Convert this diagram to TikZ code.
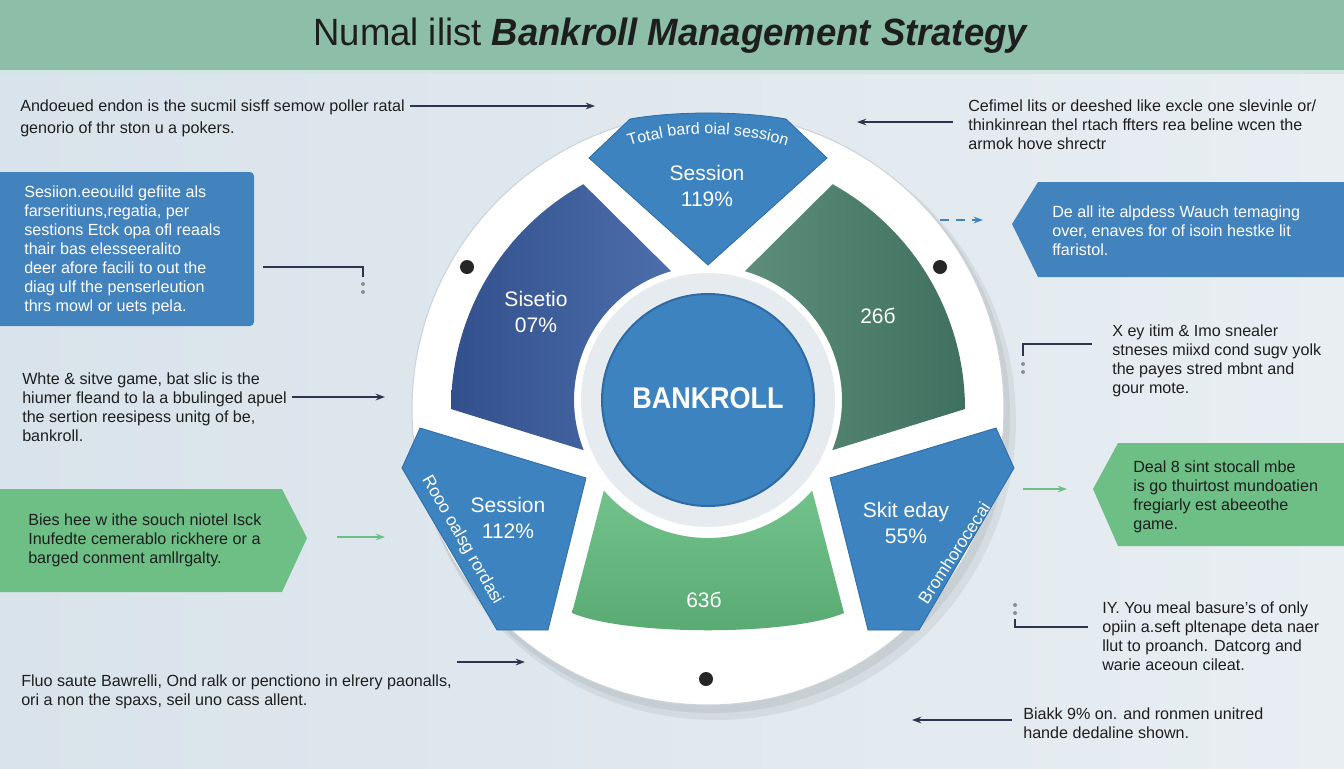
\documentclass[tikz,border=0pt]{standalone}
\usepackage{fontspec}
\setmainfont{Liberation Sans}
\usepackage{xcolor}
\usepackage{graphicx}
\usetikzlibrary{arrows.meta,calc,decorations.text}

\definecolor{bgleft}{HTML}{D9E3EB}
\definecolor{bgright}{HTML}{E8EEF2}
\definecolor{headgreen}{HTML}{8CBEA8}
\definecolor{headline}{HTML}{D3E6E1}
\definecolor{txtdark}{HTML}{1E1E1E}
\definecolor{navy}{HTML}{2B3550}
\definecolor{segblue}{HTML}{3C83BF}
\definecolor{segedge}{HTML}{2E6AA4}
\definecolor{darkA}{HTML}{32508D}
\definecolor{darkB}{HTML}{4C6EAA}
\definecolor{greenA}{HTML}{5C8E7B}
\definecolor{greenB}{HTML}{40705F}
\definecolor{lightA}{HTML}{72C28B}
\definecolor{lightB}{HTML}{58A972}
\definecolor{boxblue}{HTML}{4282BD}
\definecolor{boxgreen}{HTML}{6DBF86}
\definecolor{ringedge}{HTML}{CBD3DB}
\definecolor{groove}{HTML}{E6EBF0}
\definecolor{dotgray}{HTML}{8A9099}

\tikzset{
  titletxt/.style={inner sep=0pt, text=txtdark, font=\fontsize{28.5}{32}\selectfont},
  sidetxt/.style={anchor=west, inner sep=0pt, align=left, text=txtdark,
    font=\fontsize{12.1}{14.25}\selectfont},
  boxtxt/.style={sidetxt, text=white},
  segtxt/.style={inner sep=0pt, align=center, text=white,
    font=\fontsize{15.75}{19.5}\selectfont},
  rottxt/.style={inner sep=0pt, text=white, font=\fontsize{13}{13}\selectfont},
  conn/.style={draw=navy, line width=1.5pt, -{Stealth[length=7pt,width=5pt]}},
  greenconn/.style={conn, draw=boxgreen},
  bluedash/.style={conn, draw=boxblue, dash pattern=on 7pt off 5pt},
  bracket/.style={draw=navy, line width=1.5pt},
  wheeldot/.style={fill=black!85},
}

\begin{document}
\begin{tikzpicture}[x=0.75pt, y=-0.75pt]
  \useasboundingbox (0,0) rectangle (1344,768);
  % Background and header
  \shade[left color=bgleft, right color=bgright] (0,0) rectangle (1344,768);
  \fill[headgreen] (0,0) rectangle (1344,70);
  \fill[headline] (0,70) rectangle (1344,74);
  \node[titletxt] (title) at (671,36) {\scalebox{0.96}[1]{Numal ilist \textbf{\textit{Bankroll Management Strategy}}}};

  % Wheel centres
  \coordinate (cc) at (708,400);
  \coordinate (dc) at (708,409);

  % White disc with shadow
  \fill[black, opacity=0.06] (716,420) circle[radius=300];
  \fill[black, opacity=0.06] (712,415) circle[radius=298];
  \fill[white, draw=ringedge, line width=0.8pt] (dc) circle[radius=296];
  \fill[groove] (cc) circle[radius=127];

  % Segments
  \shade[left color=darkA, right color=darkB] ($(dc)+(180:257)$) arc[start angle=180, end angle=241, radius=257]
    -- ($(cc)+(254:134)$) arc[start angle=254, end angle=158, radius=134] -- cycle;
  \shade[left color=greenA, right color=greenB] ($(dc)+(0:257)$) arc[start angle=0, end angle=-61, radius=257]
    -- ($(cc)+(-74:134)$) arc[start angle=-74, end angle=22, radius=134] -- cycle;
  \fill[segblue, draw=segedge, line width=0.6pt] (589,158) -- (630,119) .. controls (675,111) and (741,111) .. (786,119)
    -- (827,158) -- (708,265) -- cycle;
  \fill[segblue, draw=segedge, line width=0.6pt] (420,428) -- (586,478) -- (548,630) -- (497,630) -- (402,468) -- cycle;
  \fill[segblue, draw=segedge, line width=0.6pt] (996,428) -- (830,478) -- (868,630) -- (919,630) -- (1014,468) -- cycle;
  \shade[top color=lightA, bottom color=lightB] (572,613) -- ($(cc)+(139:138)$) arc[start angle=139, end angle=41, radius=138]
    -- (844,613) .. controls (790,636) and (626,636) .. (572,613) -- cycle;

  % Centre circle
  \fill[segblue, draw=segedge, line width=1.5pt] (cc) circle[radius=106];
  \node[inner sep=0pt, text=white, font=\bfseries\fontsize{22.5}{24}\selectfont] (bank) at (708,398) {\scalebox{0.9}[1]{BANKROLL}};

  % Dots
  \fill[wheeldot] (467,267) circle[radius=7];
  \fill[wheeldot] (940,267) circle[radius=7];
  \fill[wheeldot] (706,679) circle[radius=7];

  % Segment labels
  \path[decorate, decoration={text along path, text align=center,
      text={|\color{white}\fontsize{12}{12}\selectfont|Total bard oial session}}]
    ($(cc)+(-108:266)$) arc[start angle=-108, end angle=-72, radius=266];
  \node[segtxt] (topseg) at (707,186) {Session\\119\%};
  \node[segtxt] (darkseg) at (536,312) {Sisetio\\07\%};
  \node[segtxt] (greenseg) at (878,316) {26б};
  \node[segtxt] (leftseg) at (508,518) {Session\\112\%};
  \node[segtxt] (rightseg) at (906,523) {Skit eday\\55\%};
  \node[segtxt] (lowseg) at (704,600) {63б};
  \node[rottxt, rotate=-60] (leftrot) at (462,540) {Rooo oalsg rordasi};
  \node[rottxt, rotate=57] (rightrot) at (954,553) {Bromhorocecai};

  % Boxes
  \fill[boxblue, rounded corners=3pt] (-5,172) rectangle (254,326);
  \fill[boxgreen] (0,489) -- (282,489) -- (307,538) -- (282,592) -- (0,592) -- cycle;
  \fill[boxblue] (1344,182) -- (1038,182) -- (1012,224) -- (1038,277) -- (1344,277) -- cycle;
  \fill[boxgreen] (1344,443) -- (1118,443) -- (1093,489) -- (1118,546) -- (1344,546) -- cycle;

  % Left texts
  \node[sidetxt, font=\fontsize{12.1}{16.5}\selectfont] (txtA) at (20,118)
    {Andoeued endon is the sucmil sisff semow poller ratal\\genorio of thr ston u a pokers.};
  \node[boxtxt] (txtB) at (24,250)
    {Sesiion.eeouild gefiite als\\farseritiuns,regatia, per\\sestions Etck opa ofl reaals\\thair bas elesseeralito\\deer afore facili to out the\\diag ulf the penserleution\\thrs mowl or uets pela.};
  \node[sidetxt] (txtC) at (22,407)
    {Whte \& sitve game, bat slic is the\\hiumer fleand to la a bbulinged apuel\\the sertion reesipess unitg of be,\\bankroll.};
  \node[sidetxt] (txtD) at (28,540)
    {Bies hee w ithe souch niotel Isck\\Inufedte cemerablo rickhere or a\\barged conment amllrgalty.};
  \node[sidetxt] (txtE) at (21,692)
    {Fluo saute Bawrelli, Ond ralk or penctiono in elrery paonalls,\\ori a non the spaxs, seil uno cass allent.};

  % Right texts
  \node[sidetxt] (txtF) at (968,125)
    {Cefimel lits or deeshed like excle one slevinle or/\\thinkinrean thel rtach ffters rea beline wcen the\\armok hove shrectr};
  \node[boxtxt] (txtG) at (1052,231)
    {De all ite alpdess Wauch temaging\\over, enaves for of isoin hestke lit\\ffaristol.};
  \node[sidetxt] (txtH) at (1112,361)
    {X ey itim \& Imo snealer\\stneses miixd cond sugv yolk\\the payes stred mbnt and\\gour mote.};
  \node[sidetxt] (txtI) at (1133,497)
    {Deal 8 sint stocall mbe\\is go thuirtost mundoatien\\fregiarly est abeeothe\\game.};
  \node[sidetxt] (txtJ) at (1102,636)
    {IY. You meal basure's of only\\opiin a.seft pltenape deta naer\\llut to proanch. Datcorg and\\warie aceoun cileat.};
  \node[sidetxt] (txtK) at (1023,723)
    {Biakk 9\% on. and ronmen unitred\\hande dedaline shown.};

  % Connector ends
  \coordinate (a1s) at (410,106);  \coordinate (a1e) at (595,106);
  \coordinate (b1s) at (263,267);  \coordinate (b1c) at (363,267);  \coordinate (b1e) at (363,277);
  \coordinate (a2s) at (292,397);  \coordinate (a2e) at (385,397);
  \coordinate (a3s) at (337,537);  \coordinate (a3e) at (385,537);
  \coordinate (a4s) at (457,662);  \coordinate (a4e) at (525,662);
  \coordinate (a5s) at (953,122);  \coordinate (a5e) at (857,122);
  \coordinate (a6s) at (940,220);  \coordinate (a6e) at (983,220);
  \coordinate (b2s) at (1092,344); \coordinate (b2c) at (1023,344); \coordinate (b2e) at (1023,356);
  \coordinate (a7s) at (1023,489); \coordinate (a7e) at (1067,489);
  \coordinate (b3s) at (1015,619); \coordinate (b3c) at (1015,627); \coordinate (b3e) at (1088,627);
  \coordinate (a8s) at (1012,720); \coordinate (a8e) at (912,720);

  % Connectors
  \draw[conn] (a1s) -- (a1e);
  \draw[bracket] (b1s) -- (b1c) -- (b1e);
  \draw[conn] (a2s) -- (a2e);
  \draw[greenconn] (a3s) -- (a3e);
  \draw[conn] (a4s) -- (a4e);
  \draw[conn] (a5s) -- (a5e);
  \draw[bluedash] (a6s) -- (a6e);
  \draw[bracket] (b2s) -- (b2c) -- (b2e);
  \draw[greenconn] (a7s) -- (a7e);
  \draw[bracket] (b3s) -- (b3c) -- (b3e);
  \draw[conn] (a8s) -- (a8e);

  % Bracket dots
  \fill[dotgray] (363,284) circle[radius=2];
  \fill[dotgray] (363,292) circle[radius=2];
  \fill[dotgray] (1023,364) circle[radius=2];
  \fill[dotgray] (1023,372) circle[radius=2];
  \fill[dotgray] (1015,605) circle[radius=2];
  \fill[dotgray] (1015,613) circle[radius=2];
\end{tikzpicture}
\end{document}
